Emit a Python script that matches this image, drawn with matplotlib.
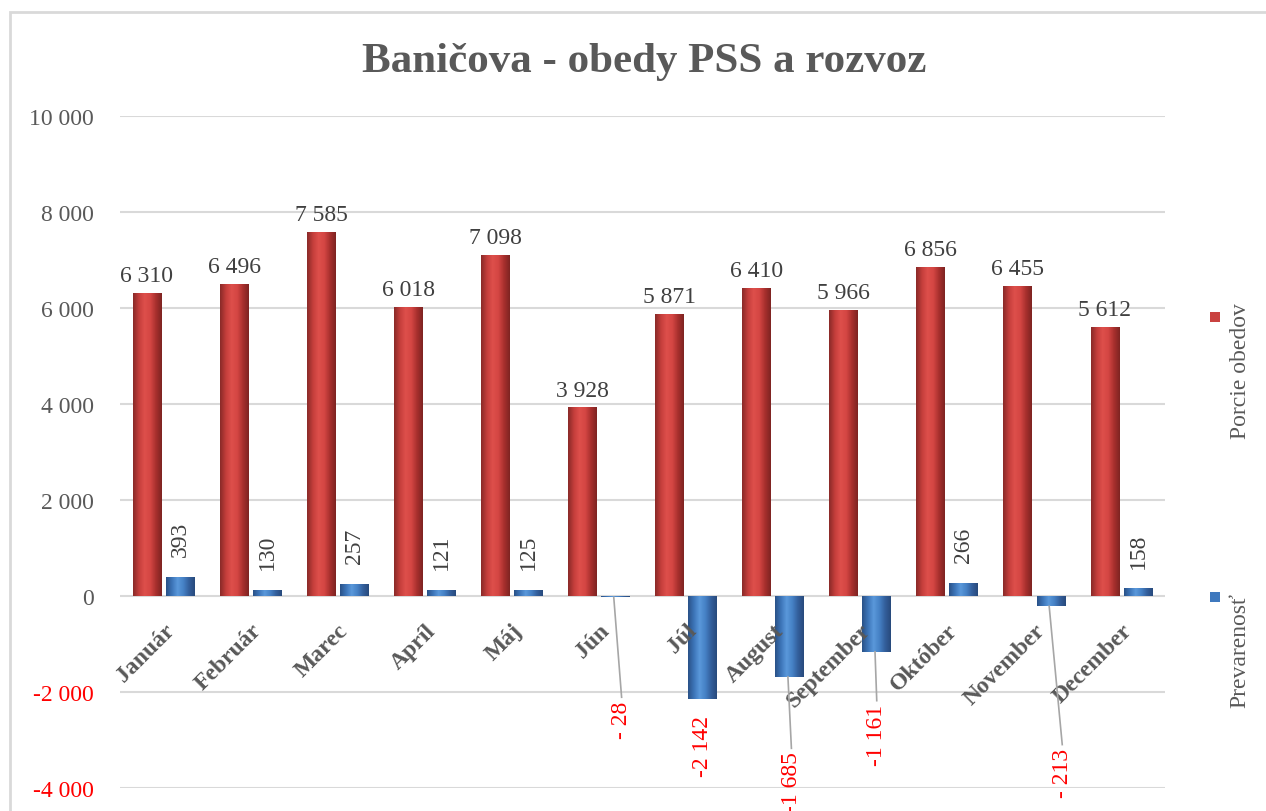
import matplotlib
matplotlib.use("Agg")
import matplotlib.pyplot as plt
import numpy as np
from matplotlib.patches import Rectangle
from matplotlib.colors import LinearSegmentedColormap

plt.rcParams['font.family'] = ['Liberation Serif', 'DejaVu Serif']

# ---- data ----
months = ["Január", "Február", "Marec", "Apríl", "Máj", "Jún", "Júl",
          "August", "September", "Október", "November", "December"]
porcie = [6310, 6496, 7585, 6018, 7098, 3928, 5871, 6410, 5966, 6856, 6455, 5612]
prevarenost = [393, 130, 257, 121, 125, -28, -2142, -1685, -1161, 266, -213, 158]
series_names = ["Porcie obedov", "Prevarenosť"]
yticks = [-4000, -2000, 0, 2000, 4000, 6000, 8000, 10000]

# layout: y position (data units) of the centre of each negative label
neg_label_y = {5: -2560, 6: -3120, 7: -3870, 8: -2880, 10: -3670}
neg_label_dx = {5: 0.07, 6: 0.0, 7: 0.02, 8: 0.0, 10: 0.13}

FS = 17


def fmt(v):
    s = f"{abs(v):,}".replace(",", " ")
    if v < 0:
        return ("- " if abs(v) < 1000 else "-") + s
    return s


W, H = 1266, 812
fig = plt.figure(figsize=(W / 100, H / 100), dpi=100)
fig.patch.set_facecolor("white")

# outer chart frame
fig.add_artist(Rectangle((10 / W, -0.05), 1.2, (H - 13) / H + 0.05,
                         transform=fig.transFigure, fill=False,
                         edgecolor="#D9D9D9", lw=2))

ax = fig.add_axes([120 / W, (H - 789) / H, (1165 - 120) / W, (789 - 117) / H])
ax.set_xlim(0, len(months))
ax.set_ylim(-4000, 10000)
for s in ax.spines.values():
    s.set_visible(False)
ax.set_yticks(yticks)
ax.set_yticklabels([fmt(t) if t >= 0 else f"-{abs(t):,}".replace(",", " ") for t in yticks],
                   fontsize=FS)
for lab, t in zip(ax.get_yticklabels(), yticks):
    lab.set_color("red" if t < 0 else "#595959")
ax.tick_params(axis="y", length=0, pad=19)
ax.set_xticks([])
ax.grid(axis="y", color="#D9D9D9", lw=1.5)
ax.set_axisbelow(True)

red_cmap = LinearSegmentedColormap.from_list(
    "r", ["#8A2A28", "#C43E3B", "#DE4F4B", "#D44643", "#A8302E", "#7E2422"])
blue_cmap = LinearSegmentedColormap.from_list(
    "b", ["#2A5288", "#3C74B8", "#5A98DA", "#4682C6", "#335F9C", "#284A7C"])

bw = 0.33
off = 0.19
grad = np.linspace(0, 1, 64).reshape(1, -1)


def gbar(x, h, cmap):
    y0, y1 = (0, h) if h >= 0 else (h, 0)
    r = Rectangle((x - bw / 2, y0), bw, y1 - y0, facecolor="none",
                  edgecolor="none")
    ax.add_patch(r)
    im = ax.imshow(grad, cmap=cmap, aspect="auto",
                   extent=(x - bw / 2, x + bw / 2, y0, y1), zorder=3)
    im.set_clip_path(r)
    ax.set_xlim(0, len(months))
    ax.set_ylim(-4000, 10000)


for i, (p, v) in enumerate(zip(porcie, prevarenost)):
    xc = i + 0.5
    gbar(xc - off, p, red_cmap)
    gbar(xc + off, v, blue_cmap)
    ax.annotate(fmt(p), (xc - off, p), xytext=(0, 5), textcoords="offset points",
                ha="center", va="bottom", fontsize=FS, color="#404040")
    if v >= 0:
        ax.annotate(fmt(v), (xc + off, v), xytext=(0, 15), textcoords="offset points",
                    ha="center", va="bottom", rotation=90, fontsize=FS, color="#404040")
    # month label
    ax.annotate(months[i], (xc, 0), xytext=(0, -17), textcoords="offset points",
                ha="right", va="top", rotation=45, rotation_mode="anchor",
                fontsize=FS, fontweight="bold", color="#595959")

neg_texts = {}
for i, v in enumerate(prevarenost):
    if v < 0:
        xc = i + 0.5 + off + neg_label_dx[i]
        t = ax.text(xc, neg_label_y[i], fmt(v), rotation=90, ha="center",
                    va="center", fontsize=FS, color="red", zorder=5)
        neg_texts[i] = t

fig.canvas.draw()
r = fig.canvas.get_renderer()
inv = ax.transData.inverted()
for i, t in neg_texts.items():
    bb = t.get_window_extent(r)
    top = inv.transform((0, bb.y1 + 3))[1]
    v = prevarenost[i]
    bar_px = ax.transData.transform((0, v))[1]
    if bar_px - bb.y1 > 35:
        ax.plot([i + 0.5 + off - 0.02, i + 0.5 + off + neg_label_dx[i]],
                [v, top], color="#A6A6A6", lw=1.2, zorder=4)

fig.text(644 / W, 1 - 62 / H, "Baničova - obedy PSS a rozvoz", ha="center",
         va="center", fontsize=31, fontweight="bold", color="#595959")

# legend (vertical, right side)
leg_colors = ["#C94240", "#3F79BE"]
leg_marker_y = [318, 598]
leg_text_center = [371, 651]
for name, c, my, ty in zip(series_names, leg_colors, leg_marker_y, leg_text_center):
    fig.add_artist(Rectangle(((1215 - 5) / W, 1 - (my + 5) / H), 10 / W, 10 / H,
                             transform=fig.transFigure, facecolor=c,
                             edgecolor="none"))
    fig.text(1240 / W, 1 - ty / H, name, rotation=90, ha="center", va="center",
             fontsize=FS, color="#595959")

fig.savefig("out.png", dpi=100)
